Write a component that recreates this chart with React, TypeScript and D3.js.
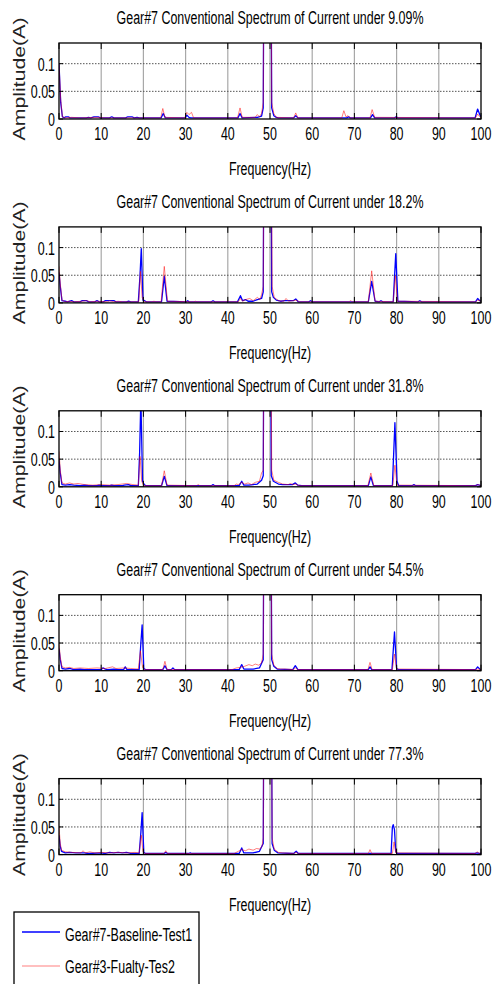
import React from 'react';
import * as d3 from 'd3';

type P = [number, number];

const loads = ['9.09%', '18.2%', '31.8%', '54.5%', '77.3%'];
const xTicks = [0, 10, 20, 30, 40, 50, 60, 70, 80, 90, 100];
const yTicks = [0, 0.05, 0.1];
const yTickLabels = ['0', '0.05', '0.1'];
const legendLabels = ['Gear#7-Baseline-Test1', 'Gear#3-Fualty-Tes2'];

const baseline1: P[] = [[0,0.1],[0.4,0.03],[0.8,0.004],[1.2,0.002],[1.6,0.004],[2.2,0.004],[2.6,0.002],[6.5,0.002],[7,0.003],[7.5,0.002],[8.3,0.004],[9.3,0.004],[9.8,0.002],[12,0.002],[12.5,0.004],[13,0.002],[15.8,0.002],[16.3,0.004],[17.3,0.004],[17.8,0.002],[18.5,0.003],[19,0.002],[24.2,0.002],[24.7,0.01],[25.2,0.002],[29.9,0.002],[30.3,0.007],[30.8,0.003],[31.2,0.002],[42.4,0.002],[42.9,0.01],[43.4,0.002],[47,0.003],[48,0.005],[48.4,0.02],[48.7,0.6],[49.4,1.2],[50.1,0.6],[50.4,0.02],[50.9,0.006],[51.5,0.003],[52,0.002],[55.6,0.002],[56.1,0.006],[56.6,0.002],[68.2,0.002],[68.6,0.004],[69,0.002],[73.8,0.002],[74.3,0.008],[74.8,0.002],[79.5,0.002],[79.9,0.004],[80.3,0.002],[98.6,0.002],[99.2,0.018],[99.7,0.008],[100,0.004]];
const faulty1: P[] = [[0,0.1],[0.4,0.035],[0.8,0.004],[1.5,0.002],[3,0.003],[5,0.002],[9,0.003],[11,0.002],[24.1,0.002],[24.6,0.019],[25.1,0.003],[29.8,0.002],[30.3,0.012],[30.8,0.008],[31.4,0.012],[31.9,0.002],[42.3,0.002],[42.9,0.02],[43.4,0.003],[46.5,0.003],[47,0.008],[47.5,0.004],[48,0.01],[48.4,0.03],[48.7,0.6],[49.4,1.2],[50.1,0.6],[50.4,0.03],[50.9,0.01],[51.5,0.003],[55.6,0.002],[56.1,0.011],[56.6,0.002],[67,0.002],[67.5,0.015],[68,0.004],[68.5,0.006],[69,0.002],[73.7,0.002],[74.2,0.017],[74.8,0.003],[98.7,0.002],[99.2,0.009],[99.7,0.004],[100,0.003]];

const baseline2: P[] = [[0,0.055],[0.3,0.03],[0.7,0.004],[1.5,0.003],[2,0.002],[3,0.004],[3.5,0.002],[5,0.002],[5.5,0.004],[6.5,0.004],[7,0.002],[8.5,0.002],[9,0.004],[9.5,0.002],[10.5,0.002],[11,0.004],[13,0.004],[13.5,0.002],[16,0.002],[16.5,0.003],[17,0.002],[18.8,0.002],[19.2,0.05],[19.5,0.098],[19.9,0.005],[20.3,0.004],[20.7,0.002],[24.3,0.002],[24.95,0.048],[25.6,0.003],[30.2,0.002],[30.5,0.004],[30.8,0.002],[36.1,0.002],[36.5,0.004],[36.9,0.002],[42.3,0.002],[43,0.013],[43.5,0.004],[44.2,0.006],[44.8,0.003],[46,0.003],[47,0.006],[48,0.008],[48.4,0.02],[48.7,0.6],[49.4,1.2],[50.1,0.6],[50.4,0.02],[50.8,0.01],[51.5,0.005],[52.5,0.003],[53.5,0.004],[55.5,0.004],[56.1,0.007],[56.7,0.002],[59.2,0.002],[59.6,0.004],[60,0.002],[73.3,0.002],[74.1,0.039],[74.9,0.003],[75.9,0.002],[76.3,0.004],[76.7,0.002],[79.2,0.002],[79.8,0.089],[80.3,0.003],[85.1,0.002],[85.5,0.004],[85.9,0.002],[98.7,0.002],[99.2,0.008],[99.7,0.004],[100,0.003]];
const faulty2: P[] = [[0,0.066],[0.3,0.035],[0.7,0.005],[1.5,0.002],[2.5,0.003],[3.5,0.002],[5.5,0.003],[6.5,0.004],[7.5,0.002],[9,0.003],[11.5,0.002],[12,0.004],[13,0.002],[14,0.003],[15,0.002],[18.9,0.002],[19.3,0.057],[19.7,0.01],[20.2,0.002],[22,0.002],[22.5,0.003],[23,0.002],[24.2,0.002],[24.95,0.066],[25.7,0.003],[31.9,0.002],[32.3,0.003],[32.7,0.002],[39.6,0.002],[40,0.004],[40.4,0.002],[42.5,0.002],[43,0.008],[43.5,0.003],[44.2,0.006],[45.2,0.008],[46,0.004],[47,0.01],[47.6,0.006],[48,0.015],[48.4,0.03],[48.7,0.6],[49.4,1.2],[50.2,0.6],[50.5,0.03],[51,0.01],[52,0.004],[53.3,0.003],[53.8,0.008],[54.4,0.003],[55.5,0.004],[56.1,0.005],[57,0.002],[68.7,0.002],[69.1,0.004],[69.5,0.002],[73.3,0.002],[74.1,0.058],[74.9,0.003],[79.2,0.002],[79.7,0.049],[80.2,0.003],[98.8,0.002],[99.2,0.005],[100,0.003]];

const baseline3: P[] = [[0,0.049],[0.3,0.025],[0.7,0.004],[1.5,0.003],[2.5,0.004],[3.5,0.003],[5,0.002],[6,0.003],[7,0.002],[9,0.002],[9.5,0.003],[10,0.002],[12,0.002],[12.5,0.003],[13,0.002],[15,0.002],[15.5,0.003],[16.5,0.004],[17,0.002],[18.8,0.002],[19.1,0.06],[19.4,0.16],[19.8,0.01],[20.2,0.004],[20.6,0.002],[24.3,0.002],[24.95,0.019],[25.6,0.002],[36.1,0.002],[36.5,0.004],[36.9,0.002],[42.7,0.002],[43.3,0.01],[43.8,0.003],[45,0.003],[46,0.004],[47,0.005],[48,0.012],[48.4,0.02],[48.7,0.6],[49.4,1.2],[50,0.6],[50.3,0.02],[50.8,0.01],[52,0.005],[53,0.004],[55.3,0.004],[56,0.007],[56.6,0.003],[57.5,0.002],[73.3,0.002],[73.9,0.018],[74.5,0.002],[79,0.002],[79.6,0.116],[80.1,0.01],[80.5,0.002],[83.7,0.002],[84.1,0.004],[84.5,0.002],[98.7,0.002],[99.2,0.004],[100,0.002]];
const faulty3: P[] = [[0,0.064],[0.3,0.03],[0.7,0.007],[1.5,0.005],[2.5,0.007],[3.5,0.005],[4.5,0.006],[6,0.004],[8,0.003],[10,0.004],[12,0.003],[14,0.004],[16,0.006],[17.5,0.004],[18.8,0.003],[19.2,0.055],[19.6,0.01],[20,0.003],[20.6,0.002],[24.3,0.002],[24.95,0.029],[25.6,0.003],[32.6,0.002],[33,0.004],[33.4,0.002],[41.5,0.002],[42,0.005],[42.5,0.004],[43.3,0.008],[44,0.005],[44.8,0.007],[45.6,0.004],[46.5,0.008],[47.5,0.01],[48,0.025],[48.4,0.03],[48.7,0.6],[49.4,1.2],[50.1,0.6],[50.4,0.03],[50.9,0.012],[52,0.008],[53,0.005],[54.3,0.004],[54.8,0.006],[55.5,0.004],[56,0.005],[57,0.002],[73.2,0.002],[73.9,0.025],[74.6,0.002],[79.1,0.002],[79.6,0.039],[80.1,0.003],[98.8,0.002],[99.2,0.004],[100,0.002]];

const baseline4: P[] = [[0,0.04],[0.3,0.02],[0.7,0.004],[1.5,0.003],[2.5,0.004],[3.5,0.002],[5,0.003],[6,0.002],[10,0.002],[10.4,0.005],[11,0.003],[11.5,0.002],[13,0.003],[14,0.002],[15.3,0.002],[15.7,0.007],[16.1,0.002],[19,0.002],[19.4,0.05],[19.7,0.083],[20.1,0.004],[20.5,0.002],[24.6,0.002],[25.1,0.009],[25.6,0.002],[26.6,0.002],[27,0.005],[27.4,0.002],[42.7,0.002],[43.3,0.011],[43.8,0.003],[46,0.003],[47.5,0.005],[48.4,0.02],[48.7,0.6],[49.4,1.2],[50.1,0.6],[50.4,0.02],[50.9,0.008],[51.7,0.003],[55.4,0.002],[56,0.009],[56.6,0.002],[73.3,0.002],[73.7,0.007],[74.1,0.002],[78.9,0.002],[79.5,0.07],[80,0.004],[80.4,0.002],[98.7,0.002],[99.2,0.007],[99.7,0.003],[100,0.002]];
const faulty4: P[] = [[0,0.048],[0.3,0.025],[0.7,0.007],[1.5,0.005],[2.5,0.006],[3.5,0.004],[5,0.005],[7,0.004],[9,0.005],[11,0.004],[12.7,0.007],[13.5,0.004],[15.5,0.005],[17,0.004],[18.8,0.003],[19.3,0.036],[19.8,0.006],[20.3,0.002],[24.6,0.002],[25.1,0.017],[25.6,0.002],[41,0.002],[42,0.005],[43,0.006],[44,0.008],[45,0.011],[45.8,0.009],[46.5,0.012],[47.3,0.01],[48,0.014],[48.4,0.03],[48.7,0.6],[49.4,1.2],[50.1,0.6],[50.4,0.03],[50.9,0.01],[51.7,0.004],[52.5,0.003],[53.5,0.003],[55.6,0.002],[56,0.005],[56.6,0.002],[73.2,0.002],[73.7,0.015],[74.2,0.002],[79,0.002],[79.5,0.03],[80,0.003],[98.8,0.002],[99.2,0.003],[100,0.002]];

const baseline5: P[] = [[0,0.035],[0.3,0.015],[0.6,0.006],[1.5,0.003],[2.5,0.004],[4,0.003],[6,0.003],[7,0.002],[10,0.003],[11,0.002],[12,0.004],[13,0.003],[14,0.004],[15,0.003],[16,0.004],[17,0.002],[19,0.002],[19.4,0.04],[19.7,0.076],[20.1,0.004],[20.5,0.002],[24.9,0.002],[25.3,0.004],[25.7,0.002],[30.7,0.002],[31.1,0.003],[31.5,0.002],[42.7,0.002],[43.3,0.012],[43.8,0.003],[46,0.003],[47.5,0.006],[48.4,0.02],[48.7,0.6],[49.4,1.2],[50.2,0.6],[50.5,0.02],[51,0.008],[51.9,0.003],[55.6,0.002],[56.2,0.006],[56.7,0.002],[78.7,0.002],[79,0.05],[79.2,0.054],[79.5,0.045],[79.8,0.005],[80.2,0.002],[98.6,0.002],[99.1,0.003],[99.6,0.002],[100,0.002]];
const faulty5: P[] = [[0,0.05],[0.3,0.02],[0.6,0.008],[1.5,0.005],[3,0.004],[5.2,0.003],[5.7,0.007],[6.2,0.003],[7.3,0.005],[8.5,0.003],[10,0.004],[12,0.003],[14,0.004],[16,0.003],[18,0.004],[19,0.003],[19.5,0.035],[19.9,0.005],[20.4,0.002],[24.9,0.002],[25.3,0.007],[25.7,0.002],[41.5,0.002],[42.5,0.006],[43.3,0.009],[44.2,0.007],[45,0.01],[46,0.008],[46.8,0.011],[47.6,0.01],[48.1,0.015],[48.4,0.03],[48.7,0.6],[49.4,1.2],[50.2,0.6],[50.5,0.03],[51,0.01],[52,0.004],[53,0.003],[55.6,0.002],[56.2,0.004],[56.7,0.002],[73.3,0.002],[73.7,0.009],[74.1,0.002],[79,0.002],[79.4,0.023],[79.8,0.003],[98.6,0.002],[99.1,0.005],[99.6,0.002],[100,0.003]];

const baselineSeries = [baseline1, baseline2, baseline3, baseline4, baseline5];
const faultySeries = [faulty1, faulty2, faulty3, faulty4, faulty5];

const FONT = 'Liberation Sans, Arial, Helvetica, sans-serif';

function CText({ x, y, anchor = 'start', children }: { x: number; y: number; anchor?: string; children: React.ReactNode }) {
  return (
    <g transform={`translate(${x},${y}) scale(0.655,1)`}>
      <text x={0} y={0} textAnchor={anchor as any} fontFamily={FONT} fontSize={19} fill="#000">
        {children}
      </text>
    </g>
  );
}

export default function App() {
  const W = 492, H = 984;
  const left = 59, right = 481, plotH = 76, top0 = 43, step = 183.9;
  const x = d3.scaleLinear().domain([0, 100]).range([left, right]);

  return (
    <svg width={W} height={H} style={{ position: 'absolute', left: 0, top: 0, background: '#fff' }}>
      <rect x={0} y={0} width={W} height={H} fill="#fff" />
      {loads.map((load, i) => {
        const top = top0 + i * step;
        const bottom = top + plotH;
        const y = d3.scaleLinear().domain([0, 0.1374]).range([bottom, top]);
        const line = d3.line<P>().x(d => x(d[0])).y(d => y(d[1]));
        const cid = `clip${i}`;
        return (
          <g key={i}>
            <defs>
              <clipPath id={cid}>
                <rect x={left} y={top} width={right - left} height={plotH} />
              </clipPath>
            </defs>
            <rect x={left} y={top} width={right - left} height={plotH} fill="#fff" />
            {xTicks.slice(1, -1).map(t => (
              <line key={t} x1={x(t)} x2={x(t)} y1={top} y2={bottom} stroke="#a8a8a8" strokeWidth={1.2} />
            ))}
            {yTicks.slice(1).map(t => (
              <line key={t} x1={left} x2={right} y1={y(t)} y2={y(t)} stroke="#555" strokeWidth={1} strokeDasharray="1.5,1.5" />
            ))}
            <g clipPath={`url(#${cid})`}>
              <path d={line(baselineSeries[i]) || ''} fill="none" stroke="#0000ff" strokeWidth={1.3} strokeLinejoin="round" />
              <path d={line(faultySeries[i]) || ''} fill="none" stroke="#ff0000" strokeOpacity={0.5} strokeWidth={1} strokeLinejoin="round" />
            </g>
            {xTicks.map(t => (
              <g key={t}>
                <line x1={x(t)} x2={x(t)} y1={top} y2={top + 6} stroke="#000" strokeWidth={1} />
                <line x1={x(t)} x2={x(t)} y1={bottom} y2={bottom - 6} stroke="#000" strokeWidth={1} />
              </g>
            ))}
            {yTicks.map(t => (
              <g key={t}>
                <line x1={left} x2={left + 4} y1={y(t)} y2={y(t)} stroke="#000" strokeWidth={1} />
                <line x1={right} x2={right - 4} y1={y(t)} y2={y(t)} stroke="#000" strokeWidth={1} />
              </g>
            ))}
            <rect x={left} y={top} width={right - left} height={plotH} fill="none" stroke="#000" strokeWidth={1.3} />
            {xTicks.map(t => (
              <CText key={t} x={x(t)} y={bottom + 21} anchor="middle">{String(t)}</CText>
            ))}
            {yTicks.map((t, k) => (
              <CText key={t} x={left - 4} y={y(t) + 7} anchor="end">{yTickLabels[k]}</CText>
            ))}
            <CText x={(left + right) / 2} y={top - 19} anchor="middle">
              {`Gear#7 Conventional Spectrum of Current under ${load}`}
            </CText>
            <CText x={(left + right) / 2} y={bottom + 56} anchor="middle">Frequency(Hz)</CText>
            <g transform={`translate(25,${top + 36}) rotate(-90) scale(1.33,1)`}>
              <text x={0} y={0} textAnchor="middle" fontFamily={FONT} fontSize={16} fill="#222">Amplitude(A)</text>
            </g>
          </g>
        );
      })}
      <rect x={14} y={912} width={185} height={100} fill="#fff" stroke="#000" strokeWidth={1.3} />
      <line x1={22} x2={60} y1={932} y2={932} stroke="#0000ff" strokeWidth={1.3} />
      <line x1={22} x2={60} y1={966} y2={966} stroke="#ff0000" strokeOpacity={0.5} strokeWidth={1} />
      <CText x={65} y={940.5} anchor="start">{legendLabels[0]}</CText>
      <CText x={65} y={973} anchor="start">{legendLabels[1]}</CText>
    </svg>
  );
}
